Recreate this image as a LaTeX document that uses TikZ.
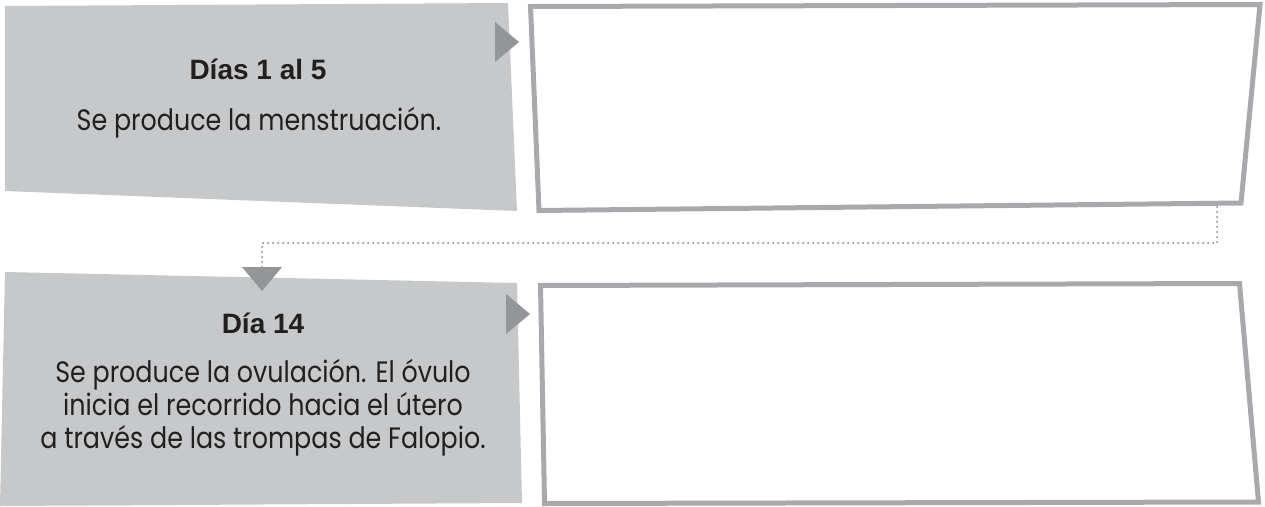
\documentclass[tikz,border=0pt]{standalone}
\usepackage{fontspec}
\setmainfont{Liberation Sans}
\newfontfamily\headfont[FakeStretch=1.0,WordSpace=1.0]{Liberation Sans}
\newfontfamily\bodyfont[FakeStretch=0.86]{Poppins}
\definecolor{grayfill}{HTML}{C7C8CA}
\definecolor{trifill}{HTML}{939598}
\definecolor{boxline}{HTML}{A7A9AC}
\definecolor{dotline}{HTML}{808285}
\definecolor{ink}{HTML}{231F20}
\tikzset{
  graypanel/.style={fill=grayfill,draw=none},
  pointer/.style={fill=trifill,draw=none},
  answerbox/.style={draw=boxline,line width=5pt,line join=miter,fill=white},
  dotconn/.style={draw=dotline,line width=2pt,line cap=round,dash pattern=on 0pt off 5pt},
  headtext/.style={text=ink,anchor=base,inner sep=0pt,font=\headfont\bfseries\fontsize{28}{32}\selectfont},
  bodytext/.style={text=ink,anchor=base,inner sep=0pt,align=center,font=\bodyfont\fontsize{29.5}{33}\selectfont},
}
\begin{document}
\begin{tikzpicture}[x=1pt,y=-1pt]
\useasboundingbox (0,0) rectangle (1265,506);
% top row
\path[graypanel] (5,6) -- (508,3) -- (517,211) -- (5,191) -- cycle;
\path[answerbox] (530.5,6.5) -- (1260,4.5) -- (1241,203) -- (539,210.5) -- cycle;
\path[pointer] (495,22) -- (519,42) -- (495,62) -- cycle;
\node[headtext] (h1) at (258,79) {Días 1 al 5};
\node[bodytext] (b1) at (259,130) {Se produce la menstruación.};
% bottom row
\path[graypanel] (5,272) -- (517,283) -- (522,503) -- (1,506) -- (0,506) -- cycle;
\path[answerbox] (540.5,285.5) -- (1239.5,283.5) -- (1258.5,502) -- (544.5,503.5) -- cycle;
\path[pointer] (506,294) -- (530,314) -- (506,334) -- cycle;
\node[headtext] (h2) at (263,333) {Día 14};
\node[bodytext] (b2) at (263,448) {Se produce la ovulación. El óvulo\\inicia el recorrido hacia el útero\\a través de las trompas de Falopio.};
% connector
\coordinate (d1) at (1217,207);
\coordinate (dturn) at (1217,243);
\coordinate (d2) at (262,267);
\draw[dotconn] (d1) -- (dturn) -| (d2);
\path[pointer] (242,267) -- (282,267) -- (262,291) -- cycle;
\end{tikzpicture}
\end{document}
